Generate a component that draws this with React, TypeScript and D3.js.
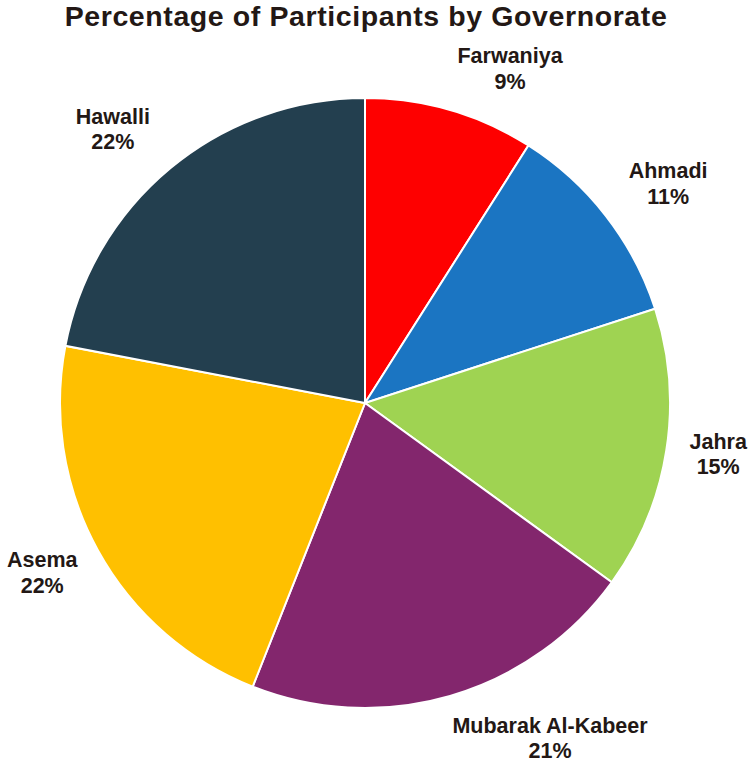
import React from "react";
import * as d3 from "d3";

const categories = ["Farwaniya", "Ahmadi", "Jahra", "Mubarak Al-Kabeer", "Asema", "Hawalli"];
const percentages = [9, 11, 15, 21, 22, 22];
const colors = ["#fe0000", "#1b75c2", "#9fd352", "#83266d", "#ffc000", "#233f4f"];
// label placement tweaks (degrees offset from slice bisector, radius)
const labelAngleNudge = [7.7, 2.8, 0.4, -12.2, 0.1, -3.8];
const labelRadius = [358, 370, 358, 389, 368, 367];

const W = 750;
const H = 762;
const cx = 365;
const cy = 403;
const R = 305;
const textColor = "#231815";

export default function App() {
  const data = categories.map((c, i) => ({ name: c, value: percentages[i], color: colors[i] }));
  const pie = d3.pie<any>().value((d) => d.value).sort(null);
  const arcs = pie(data);
  const arc = d3.arc<any>().innerRadius(0).outerRadius(R);

  return (
    <svg
      width={W}
      height={H}
      style={{ position: "absolute", left: 0, top: 0, background: "#fff" }}
      fontFamily="'Liberation Sans', Arial, sans-serif"
    >
      <text
        x={366}
        y={26}
        textAnchor="middle"
        fontSize={28.5}
        letterSpacing={0.6}
        fontWeight="bold"
        fill={textColor}
      >
        Percentage of Participants by Governorate
      </text>
      <g transform={`translate(${cx},${cy})`}>
        {arcs.map((a, i) => (
          <path key={i} d={arc(a) as string} fill={a.data.color} stroke="#fff" strokeWidth={2} />
        ))}
        {arcs.map((a, i) => {
          const mid = (a.startAngle + a.endAngle) / 2 + (labelAngleNudge[i] * Math.PI) / 180;
          const r = labelRadius[i];
          const x = r * Math.sin(mid);
          const y = -r * Math.cos(mid);
          return (
            <text key={i} x={x} y={y} textAnchor="middle" fontSize={21.5} fontWeight="bold" fill={textColor}>
              <tspan x={x} dy={-12.5}>{a.data.name}</tspan>
              <tspan x={x} dy={25.5}>{`${a.data.value}%`}</tspan>
            </text>
          );
        })}
      </g>
    </svg>
  );
}
